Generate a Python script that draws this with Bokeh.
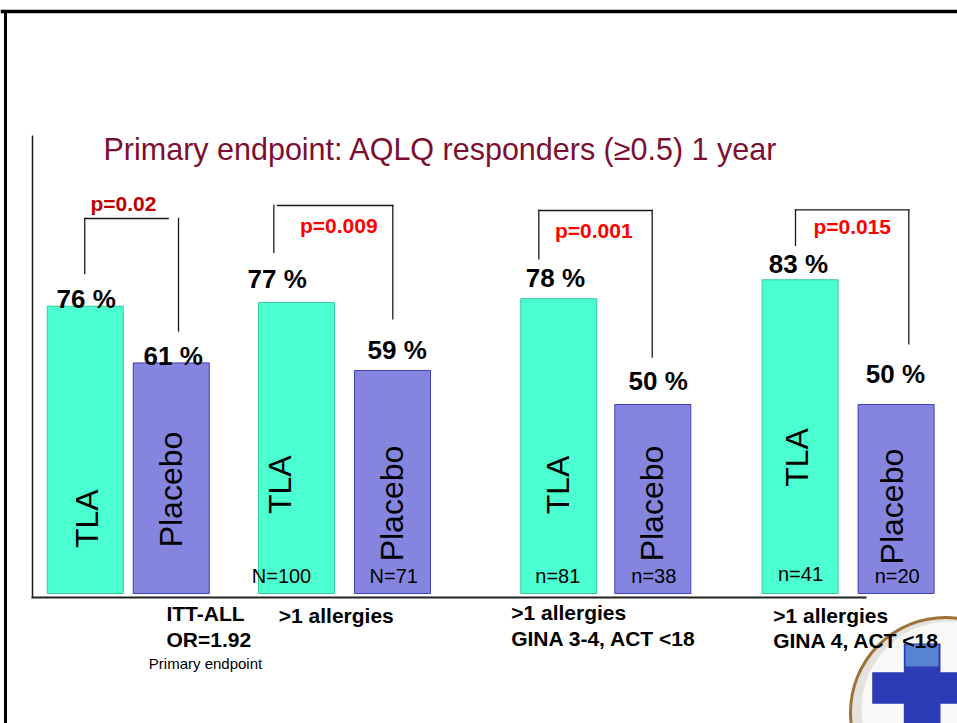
import numpy as np
from bokeh.plotting import figure
from bokeh.models import Range1d, ColumnDataSource
from bokeh.core.properties import value
from bokeh.embed import file_html
from bokeh.resources import INLINE

# ---------------- data ----------------
title_text = "Primary endpoint: AQLQ responders (\u22650.5) 1 year"
treatments = ["TLA", "Placebo"]
tla_pct = [76, 77, 78, 83]
placebo_pct = [61, 59, 50, 50]
tla_n = ["", "N=100", "n=81", "n=41"]
placebo_n = ["", "N=71", "n=38", "n=20"]
p_values = ["p=0.02", "p=0.009", "p=0.001", "p=0.015"]
label_line1 = ["ITT-ALL", ">1 allergies", ">1 allergies", ">1 allergies"]
label_line2 = ["OR=1.92", "", "GINA 3-4, ACT <18", "GINA 4, ACT <18"]
label_note = ["Primary endpoint", "", "", ""]

# ---------------- layout (pixels, relative to an 8px inset) ----------------
W, H = 957, 723
SHIFT = 8           # layout px are measured from an 8px inset
PXX = 76.0          # px per x unit (one bar width)
PXY = 3.78          # px per percentage point
ZERO_Y = 585        # layout px (from top) of 0 %


def X(px):
    return px / PXX


def Y(py):
    return (ZERO_Y - py) / PXY


GROUP_C = [119.75, 336.0, 597.3, 839.6]
HALF_GAP = [43.0, 48.0, 47.0, 48.0]
tla_x = [X(c - g) for c, g in zip(GROUP_C, HALF_GAP)]
plc_x = [X(c + g) for c, g in zip(GROUP_C, HALF_GAP)]

TLA_COL, TLA_LINE = "#4BFFD0", "#35C9A0"
PLC_COL, PLC_LINE = "#8585E0", "#3F3FB8"
FONT = value("Liberation Sans")

p = figure(width=W, height=H,
           x_range=Range1d(X(-SHIFT), X(W - SHIFT)),
           y_range=Range1d(Y(H - SHIFT), Y(-SHIFT)),
           output_backend="svg", toolbar_location=None, min_border=0,
           x_axis_location=None, y_axis_location=None)
p.grid.visible = False
p.outline_line_color = None
p.background_fill_color = "white"

# ---- logo (decoration, bottom right) ----
LOGO_C = (937, 704)
p.circle(x=[X(LOGO_C[0])], y=[Y(LOGO_C[1])], radius=95, radius_units="screen",
         fill_color="#E4E2DE", line_color="#9E7236", line_width=3)
p.circle(x=[X(LOGO_C[0] + 4)], y=[Y(LOGO_C[1] - 3)], radius=88, radius_units="screen",
         fill_color="#F8F8F6", line_color=None)
p.quad(left=[X(895.3)], right=[X(932)], top=[Y(635)], bottom=[Y(760)],
       fill_color="#2B3CB6", line_color=None)
p.quad(left=[X(863.7)], right=[X(975)], top=[Y(663.7)], bottom=[Y(695.3)],
       fill_color="#2B3CB6", line_color=None)
p.quad(left=[X(897)], right=[X(930)], top=[Y(636)], bottom=[Y(658)],
       fill_color="#5F8FD8", line_color=None, fill_alpha=0.85)

# ---- frame lines ----
p.line(x=[X(-SHIFT), X(W)], y=[Y(3), Y(3)], line_color="black", line_width=3.5)
p.line(x=[X(-3), X(-3)], y=[Y(2), Y(H)], line_color="black", line_width=3)
p.line(x=[X(24), X(24)], y=[Y(127), Y(589)], line_color="#1a1a1a", line_width=1.5)
p.line(x=[X(23), X(858)], y=[Y(589), Y(589)], line_color="#222222", line_width=2)

# ---- bars ----
p.vbar(x=tla_x, top=tla_pct, bottom=0, width=1.0, fill_color=TLA_COL,
       line_color=TLA_LINE, line_width=1)
p.vbar(x=plc_x, top=placebo_pct, bottom=0, width=1.0, fill_color=PLC_COL,
       line_color=PLC_LINE, line_width=1)

# ---- value labels ----
VAL_DX_T = [1, -19.3, -3.3, -1.6]
VAL_LIFT_T = [7.7, 23.9, 20.2, 16]
VAL_DX_P = [2, 4.7, 5.4, -0.6]
VAL_LIFT_P = [6.7, 20.7, 24, 30.7]
vx = [x + d / PXX for x, d in zip(tla_x, VAL_DX_T)] + [x + d / PXX for x, d in zip(plc_x, VAL_DX_P)]
vy = [v + l / PXY for v, l in zip(tla_pct, VAL_LIFT_T)] + [v + l / PXY for v, l in zip(placebo_pct, VAL_LIFT_P)]
vt = [f"{v} %" for v in tla_pct + placebo_pct]
p.text(x=vx, y=vy, text=vt, text_font=FONT, text_font_size="26px", text_font_style="bold",
       text_align="center", text_baseline="middle", text_color="black")

# ---- rotated treatment labels in bars ----
ROT_DX_T = [1.25, -17, -0.8, -3.6]
ROT_Y_T = [19.8, 28.8, 28.7, 36.0]
ROT_DX_P = [0, -1, -0.6, -4.6]
ROT_Y_P = [27.5, 23.8, 23.8, 23.0]
rx = [x + d / PXX for x, d in zip(tla_x, ROT_DX_T)] + [x + d / PXX for x, d in zip(plc_x, ROT_DX_P)]
ry = ROT_Y_T + ROT_Y_P
rt = [treatments[0]] * 4 + [treatments[1]] * 4
p.text(x=rx, y=ry, text=rt, angle=np.pi / 2, text_font=FONT, text_font_size="32px",
       text_align="center", text_baseline="middle", text_color="black")

# ---- n labels ----
N_DX_T = [0, -15, -1, 0.4]
N_DX_P = [0, 1.3, 1, 1.1]
N_Y_T = [567, 567, 567, 565.3]
N_Y_P = [567, 567, 567.7, 567]
nx = [x + d / PXX for x, d in zip(tla_x, N_DX_T)] + [x + d / PXX for x, d in zip(plc_x, N_DX_P)]
ny = [Y(v) for v in N_Y_T + N_Y_P]
p.text(x=nx, y=ny, text=tla_n + placebo_n, text_font=FONT, text_font_size="20px",
       text_align="center", text_baseline="middle", text_color="black")

# ---- significance brackets ----
BR_LDX = [-0.5, -22.7, -20, -4.6]
BR_RDX = [7.25, 0.3, -0.6, 12.7]
BR_TOP = [210, 197, 202, 201.3]
BR_LGAP = [32.7, 50.2, 39.9, 34.3]
BR_RGAP = [31.7, 51.7, 47.3, 60.7]
BR_HSTART = [0, 3.7, 0, 0]
BR_HEND = [10.3, 0, 0, 0]
xs, ys = [], []
for i in range(4):
    lx = tla_x[i] + BR_LDX[i] / PXX
    rxx = plc_x[i] + BR_RDX[i] / PXX
    top = Y(BR_TOP[i])
    lb = tla_pct[i] + BR_LGAP[i] / PXY
    rb = placebo_pct[i] + BR_RGAP[i] / PXY
    xs += [[lx, lx], [lx + BR_HSTART[i] / PXX, rxx - BR_HEND[i] / PXX], [rxx, rxx]]
    ys += [[lb, top], [top, top], [top, rb]]
p.multi_line(xs=xs, ys=ys, line_color="#1a1a1a", line_width=1.3, line_cap="square")

# ---- p values ----
P_POS = [(115, 195), (330.3, 217), (585.3, 222), (843.7, 217.7)]
P_COL = ["#C00000", "#FF0000", "#FF0000", "#FF0000"]
p.text(x=[X(a) for a, b in P_POS], y=[Y(b) for a, b in P_POS], text=p_values,
       text_color=P_COL, text_font=FONT, text_font_size="21px", text_font_style="bold",
       text_align="center", text_baseline="middle")

# ---- subgroup labels ----
L1_POS = [(197, 605.3), (327.8, 607), (502.7, 603.7), (764.7, 607)]
L2_POS = [(200.3, 631.3), (0, 0), (502.7, 629.7), (764.7, 632)]
L_ALIGN = ["center", "center", "left", "left"]
src1 = ColumnDataSource(dict(x=[X(a) for a, b in L1_POS], y=[Y(b) for a, b in L1_POS],
                             t=label_line1, al=L_ALIGN))
src2 = ColumnDataSource(dict(x=[X(a) for a, b in L2_POS], y=[Y(b) for a, b in L2_POS],
                             t=label_line2, al=L_ALIGN))
for s in (src1, src2):
    p.text(x="x", y="y", text="t", text_align="al", source=s, text_font=FONT,
           text_font_size="21px", text_font_style="bold", text_baseline="middle",
           text_color="black")
p.text(x=[X(197)], y=[Y(654.7)], text=[label_note[0]], text_font=FONT, text_font_size="15px",
       text_align="center", text_baseline="middle", text_color="black")

# ---- title ----
p.text(x=[X(95)], y=[Y(140)], text=[title_text], text_font=FONT, text_font_size="30.5px",
       text_align="left", text_baseline="middle", text_color="#7C0F31")

open("out.html", "w").write(file_html(p, INLINE))
